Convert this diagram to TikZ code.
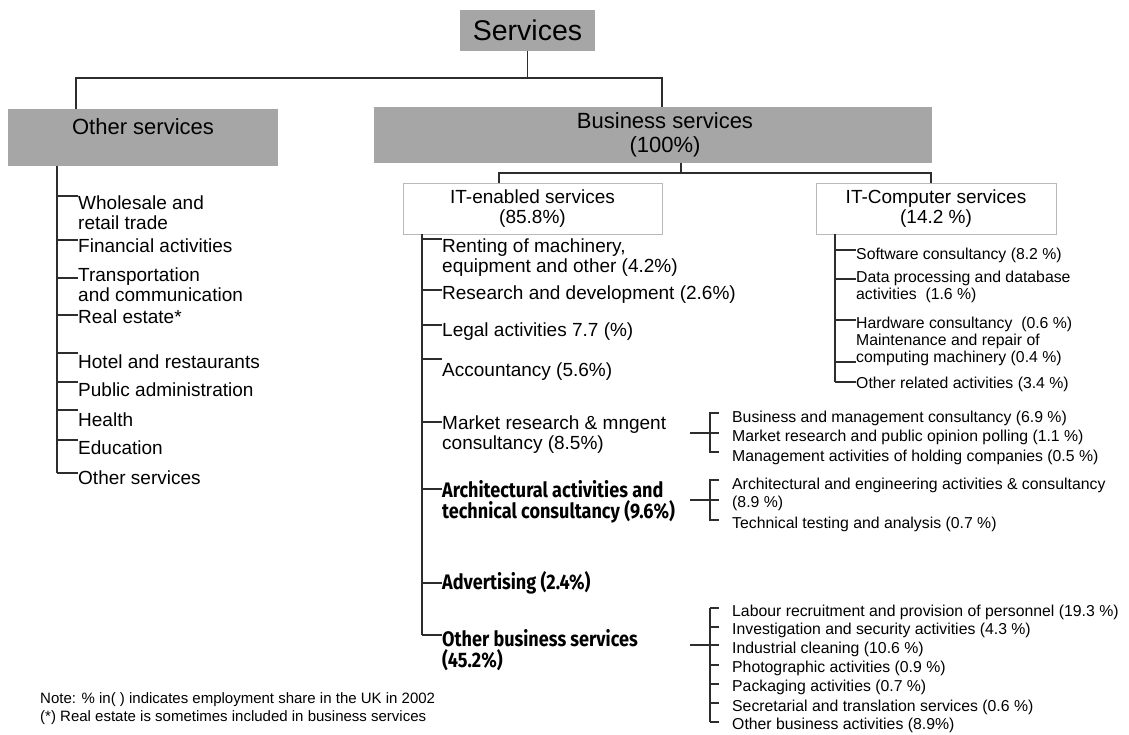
\documentclass[tikz,border=0pt]{standalone}
\usepackage{fontspec}
\setmainfont{Liberation Sans}
\newfontfamily\condbold{Fira Sans}[FakeStretch=0.86]
\usetikzlibrary{calc}
\definecolor{boxgray}{RGB}{166,166,166}
\definecolor{linecol}{RGB}{45,45,45}
\definecolor{framegray}{RGB}{185,185,185}
\begin{document}
\begin{tikzpicture}[x=1pt,y=-1pt,
  conn/.style={draw=linecol, line width=1.3pt},
  brk/.style={draw=linecol, line width=1.1pt},
  graybox/.style={fill=boxgray, draw=none, inner sep=0pt, align=center},
  whitebox/.style={fill=white, draw=framegray, line width=0.9pt, inner sep=0pt, align=center,
     font=\fontsize{19}{20}\selectfont},
  lvl/.style={anchor=west, inner sep=0pt, align=left, font=\fontsize{19}{20.5}\selectfont},
  sub/.style={anchor=west, inner sep=0pt, align=left, font=\fontsize{15.8}{17}\selectfont},
  subb/.style={anchor=west, inner sep=0pt, align=left, font=\fontsize{15.8}{18}\selectfont},
  bld/.style={anchor=west, inner sep=0pt, align=left, font=\condbold\bfseries\fontsize{21}{21}\selectfont},
  note/.style={anchor=west, inner sep=0pt, align=left, font=\fontsize{15}{18}\selectfont}]
\useasboundingbox (0,0) rectangle (1129,735);

% ---- boxes
\node[graybox, minimum width=135pt, minimum height=41pt, font=\fontsize{28.5}{30}\selectfont] (serv) at (527.5,30.5) {Services};
\node[graybox, minimum width=270pt, minimum height=57pt, text height=16pt, text depth=21pt, font=\fontsize{22}{24}\selectfont] (oth) at (143,137.5) {Other services};
\node[graybox, minimum width=558pt, minimum height=56pt, font=\fontsize{22}{24}\selectfont] (bus) at (653,135) {\hspace*{24pt}Business services\\\hspace*{24pt}(100\%)};
\node[whitebox, minimum width=259pt, minimum height=51pt] (itE) at (532.5,208.5) {IT-enabled services\\(85.8\%)};
\node[whitebox, minimum width=240pt, minimum height=51pt] (itC) at (936,208.5) {IT-Computer services\\(14.2 \%)};

% ---- top connectors
\coordinate (oL) at (76,78);
\coordinate (bR) at (662,78);
\coordinate (bj) at (681,173);
\coordinate (eL) at (499,173);
\coordinate (cR) at (931,173);
\draw[conn] (serv.south) -- (serv.south |- oL);
\draw[conn] (oth.north -| oL) -- (oL) -- (bR) -- (bus.north -| bR);
\draw[conn] (bus.south -| bj) -- (bj);
\draw[conn] (itE.north -| eL) -- (eL) -- (cR) -- (itC.north -| cR);

% ---- other services list
\node[lvl] (o1) at (78,212.5) {Wholesale and\\retail trade};
\node[lvl] (o2) at (78,246) {Financial activities};
\node[lvl] (o3) at (78,284.5) {Transportation\\and communication};
\node[lvl] (o4) at (78,317) {Real estate*};
\node[lvl] (o5) at (78,362) {Hotel and restaurants};
\node[lvl] (o6) at (78,390) {Public administration};
\node[lvl] (o7) at (78,420) {Health};
\node[lvl] (o8) at (78,448) {Education};
\node[lvl] (o9) at (78,478) {Other services};
\draw[conn] (oth.south -| 57,0) -- (57,473);
\foreach \n/\t in {o1/196,o2/240,o3/278,o4/315,o5/353,o6/382,o7/410,o8/440,o9/473}
  \draw[conn] (57,\t) -- (\n.west |- 57,\t);

% ---- IT-enabled list
\node[lvl] (e1) at (442,257.5) {Renting of machinery,\\equipment and other (4.2\%)};
\node[lvl] (e2) at (442,295) {Research and development (2.6\%)};
\node[lvl] (e3) at (442,332) {Legal activities 7.7 (\%)};
\node[lvl] (e4) at (442,372) {Accountancy (5.6\%)};
\node[lvl] (e5) at (442,434.5) {Market research \& mngent\\consultancy (8.5\%)};
\node[bld] (e6) at (442,501.5) {Architectural activities and\\technical consultancy (9.6\%)};
\node[bld] (e7) at (442,583) {Advertising (2.4\%)};
\node[bld] (e8) at (442,650) {Other business services\\(45.2\%)};
\draw[conn] (itE.south -| 422,0) -- (422,635);
\foreach \n/\t in {e1/239,e2/290,e3/325,e4/359,e5/422,e6/489,e7/583,e8/635}
  \draw[conn] (422,\t) -- (\n.west |- 422,\t);

% ---- IT-Computer list
\node[sub] (c1) at (856,255) {Software consultancy (8.2 \%)};
\node[sub] (c2) at (856,287) {Data processing and database\\activities\ \ (1.6 \%)};
\node[sub] (c3) at (856,341) {Hardware consultancy\ \ (0.6 \%)\\Maintenance and repair of\\computing machinery (0.4 \%)};
\node[sub] (c4) at (856,384) {Other related activities (3.4 \%)};
\draw[conn] (itC.south -| 835,0) -- (835,382);
\foreach \n/\t in {c1/250,c2/279,c3/320,c3/362,c4/382}
  \draw[conn] (835,\t) -- (\n.west |- 835,\t);

% ---- bracket 1: market research
\node[sub] (m1) at (732,418) {Business and management consultancy (6.9 \%)};
\node[sub] (m2) at (732,437) {Market research and public opinion polling (1.1 \%)};
\node[sub] (m3) at (732,457) {Management activities of holding companies (0.5 \%)};
\coordinate (k1) at (690,433);
\draw[brk] (k1) -- (719,433);
\draw[brk] (719,413) -- (710,413) -- (710,452) -- (719,452);

% ---- bracket 2: architectural
\node[subb] (a1) at (732,494) {Architectural and engineering activities \& consultancy\\(8.9 \%)};
\node[sub] (a2) at (732,524) {Technical testing and analysis (0.7 \%)};
\coordinate (k2) at (690,500);
\draw[brk] (k2) -- (719,500);
\draw[brk] (719,480) -- (710,480) -- (710,520) -- (719,520);

% ---- bracket 3: other business services
\node[sub] (b1) at (732,612) {Labour recruitment and provision of personnel (19.3 \%)};
\node[sub] (b2) at (732,630) {Investigation and security activities (4.3 \%)};
\node[sub] (b3) at (732,649) {Industrial cleaning (10.6 \%)};
\node[sub] (b4) at (732,668) {Photographic activities (0.9 \%)};
\node[sub] (b5) at (732,687) {Packaging activities (0.7 \%)};
\node[sub] (b6) at (732,707) {Secretarial and translation services (0.6 \%)};
\node[sub] (b7) at (732,725) {Other business activities (8.9\%)};
\coordinate (k3) at (690,645);
\draw[brk] (k3) -- (719,645);
\draw[brk] (710,608) -- (710,722);
\foreach \t in {608,627,665,684,703,722}
  \draw[brk] (710,\t) -- (719,\t);

% ---- notes
\node[note] (n1) at (40,700) {Note: \% in( ) indicates employment share in the UK in 2002};
\node[note] (n2) at (40,718) {(*) Real estate is sometimes included in business services};
\end{tikzpicture}
\end{document}
